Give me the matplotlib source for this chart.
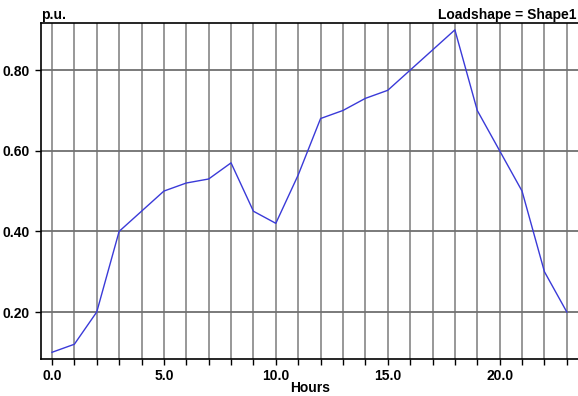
import numpy as np
import matplotlib.pyplot as plt
from matplotlib.ticker import MultipleLocator, FormatStrFormatter

plt.rcParams['font.family'] = ['Liberation Sans', 'DejaVu Sans']

hours = list(range(24))
pu = [0.10, 0.12, 0.20, 0.40, 0.45, 0.50, 0.52, 0.53, 0.57, 0.45, 0.42, 0.54,
      0.68, 0.70, 0.73, 0.75, 0.80, 0.85, 0.90, 0.70, 0.60, 0.50, 0.30, 0.20]

fig = plt.figure(figsize=(5.78, 3.96), dpi=100)
ax = fig.add_axes([41/578, 1 - 359/396, 1 - 41/578, (359 - 23)/396])

# grid lines at every hour and every 0.2 p.u.
for h in hours:
    ax.axvline(h, color='#909090', lw=1.3, zorder=1)
for v in [0.2, 0.4, 0.6, 0.8]:
    ax.axhline(v, color='#707070', lw=1.3, zorder=1)

ax.plot(hours, pu, color='#3a3ad8', lw=1.0, zorder=3)

ax.set_xlim(-0.49, 23.5)
ax.set_ylim(0.0834, 0.917)

ax.xaxis.set_major_locator(MultipleLocator(5))
ax.xaxis.set_minor_locator(MultipleLocator(1))
ax.xaxis.set_major_formatter(FormatStrFormatter('%.1f'))
ax.yaxis.set_major_locator(MultipleLocator(0.2))
ax.yaxis.set_major_formatter(FormatStrFormatter('%.2f'))

ax.tick_params(axis='both', which='both', direction='out', length=4, width=1,
               color='black', labelsize=10)
ax.tick_params(axis='x', which='both', pad=3)
ax.tick_params(axis='y', pad=4)
for lab in ax.get_xticklabels() + ax.get_yticklabels():
    lab.set_fontweight('bold')

ax.spines['right'].set_visible(False)
for s in ['left', 'bottom', 'top']:
    ax.spines[s].set_linewidth(1.2)

fig.text(41/578, 1 - 15/396, 'p.u.', fontsize=10, fontweight='bold',
         ha='left', va='center')
fig.text(577/578, 1 - 15/396, 'Loadshape = Shape1', fontsize=10,
         fontweight='bold', ha='right', va='center')
fig.text(310/578, 1 - 388/396, 'Hours', fontsize=10, fontweight='bold',
         ha='center', va='center')

fig.savefig('out.png', dpi=100)
